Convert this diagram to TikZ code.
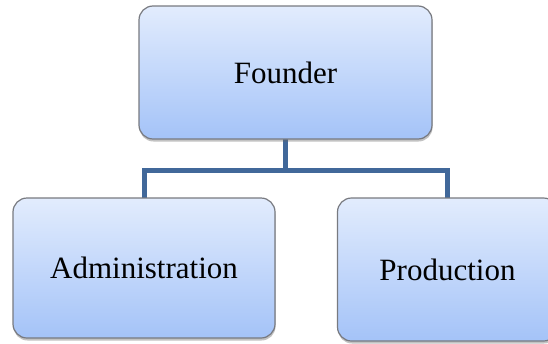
\documentclass[tikz,border=0pt]{standalone}
\usepackage{fontspec}
\setmainfont{Liberation Serif}
\usetikzlibrary{positioning, shadows, backgrounds}
\definecolor{boxtop}{RGB}{226, 236, 253}
\definecolor{boxbottom}{RGB}{164, 195, 248}
\definecolor{boxline}{RGB}{120, 122, 128}
\definecolor{linkblue}{RGB}{65, 104, 154}

\tikzset{
    unit/.style={draw=boxline, line width=1.2pt, rounded corners=14pt,
        top color=boxtop, bottom color=boxbottom,
        drop shadow={shadow xshift=0.5pt, shadow yshift=-2.5pt, opacity=0.4, fill=black!60},
        font=\fontsize{31}{36}\selectfont, align=center, inner sep=0pt},
    link/.style={linkblue, line width=5pt, line cap=rect}
}

\begin{document}
\begin{tikzpicture}[x=1pt, y=-1pt]
        \useasboundingbox (0,0) rectangle (548,343);

        % 组织单元
        \node[unit, minimum width=293pt, minimum height=133pt] (founder) at (285.5,72.5) {Founder};
        \node[unit, minimum width=262pt, minimum height=140pt] (admin) at (144,268) {Administration};
        \node[unit, minimum width=220pt, minimum height=143pt] (prod) at (447.5,269.5) {Production};

        % 连接线
        \coordinate (hub) at (285.5,170);
        \begin{scope}[on background layer]
            \draw[link] (founder.south) -- (hub);
            \draw[link] (hub) -| (admin.north);
            \draw[link] (hub) -| (prod.north);
        \end{scope}

    \end{tikzpicture}
\end{document}
